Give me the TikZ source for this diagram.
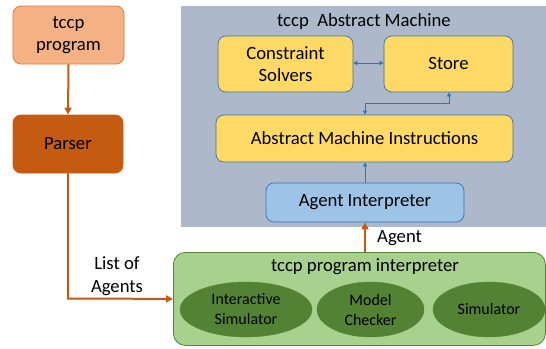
\documentclass[tikz,border=0pt]{standalone}
\usepackage{fontspec}
\setmainfont{Carlito}
\usetikzlibrary{arrows.meta,shapes.geometric}
\definecolor{progfill}{HTML}{F4B183}
\definecolor{progdraw}{HTML}{E07B39}
\definecolor{parsefill}{HTML}{C55A11}
\definecolor{orangearrow}{HTML}{C55A11}
\definecolor{grayfill}{HTML}{ADB9CA}
\definecolor{yellowfill}{HTML}{FFD966}
\definecolor{bluedraw}{HTML}{41719C}
\definecolor{bluearrow}{HTML}{2E75B6}
\definecolor{agentfill}{HTML}{9DC3E6}
\definecolor{greenfill}{HTML}{A9D18E}
\definecolor{greendraw}{HTML}{548235}
\definecolor{ellfill}{HTML}{548235}
\tikzset{
  box/.style={rectangle, rounded corners=8pt, inner sep=0pt, align=center,
    font=\fontsize{18.7}{22.5}\selectfont},
  ell/.style={ellipse, inner sep=0pt, fill=ellfill, draw=ellfill, align=center,
    font=\fontsize{16}{20}\selectfont, text=black},
  oarrow/.style={draw=orangearrow, line width=2pt, -{Triangle[length=7pt,width=7pt]}},
  barrow/.style={draw=bluearrow, line width=0.7pt, {Triangle[length=4pt,width=4pt]}-{Triangle[length=4pt,width=4pt]}},
  bsingle/.style={draw=bluearrow, line width=0.7pt, -{Triangle[length=4pt,width=4pt]}},
  lbl/.style={inner sep=0pt, align=center, font=\fontsize{18.7}{22.5}\selectfont}
}
\begin{document}
\begin{tikzpicture}[x=1pt,y=-1pt]
\useasboundingbox (0,0) rectangle (546,348);
% background containers
\node[rectangle, inner sep=0pt, fill=grayfill, minimum width=365pt, minimum height=221pt, anchor=north west] (am) at (181,6) {};
\node[lbl] (amtitle) at (364,22) {tccp\ \ Abstract Machine};
\node[box, fill=greenfill, draw=greendraw, line width=0.8pt, minimum width=372pt, minimum height=93pt, anchor=north west, rounded corners=12pt] (gi) at (173,252) {};
\node[lbl] (gititle) at (365,267) {tccp program interpreter};
% left column
\node[box, fill=progfill, draw=progdraw, line width=0.8pt, minimum width=111pt, minimum height=58pt] (prog) at (68.5,35) {tccp\\program};
\node[box, fill=parsefill, draw=parsefill, line width=0.8pt, minimum width=110pt, minimum height=58pt] (parser) at (68,144) {Parser};
% abstract machine boxes
\node[box, fill=yellowfill, draw=bluedraw, line width=0.7pt, minimum width=135pt, minimum height=56pt] (cs) at (285.5,64) {Constraint\\Solvers};
\node[box, fill=yellowfill, draw=bluedraw, line width=0.7pt, minimum width=129pt, minimum height=56pt] (store) at (448.5,64) {Store};
\node[box, fill=yellowfill, draw=bluedraw, line width=0.7pt, minimum width=297pt, minimum height=47pt] (ami) at (364.5,138.5) {Abstract Machine Instructions};
\node[box, fill=agentfill, draw=bluearrow, line width=0.7pt, minimum width=198pt, minimum height=39pt] (ai) at (365,202.5) {Agent Interpreter};
% ellipses
\node[ell, minimum width=132pt, minimum height=55pt] (is) at (246,309.5) {Interactive\\Simulator};
\node[ell, minimum width=107pt, minimum height=55pt] (mc) at (370.5,309.5) {Model\\Checker};
\node[ell, minimum width=112pt, minimum height=55pt] (sim) at (489,309.5) {Simulator};
% connectors
\draw[oarrow] (prog.south) -- (parser.north);
\coordinate (corner) at (68,298.5);
\draw[oarrow] (parser.south) -- (corner) -- (gi.west);
\node[lbl] (listlbl) at (117,276) {List of\\Agents};
\draw[oarrow] (gi.north -| ai.south) -- (ai.south);
\node[lbl, anchor=west] (agentlbl) at (377,238) {Agent};
\draw[bsingle] (ai.north) -- (ami.south -| ai.north);
\draw[barrow] (cs.east |- 0,63) -- (store.west |- 0,63);
\coordinate (j1) at (365,103);
\coordinate (j2) at (449,103);
\draw[barrow] (ami.north -| j1) -- (j1) -- (j2) -- (store.south -| j2);
\end{tikzpicture}
\end{document}
